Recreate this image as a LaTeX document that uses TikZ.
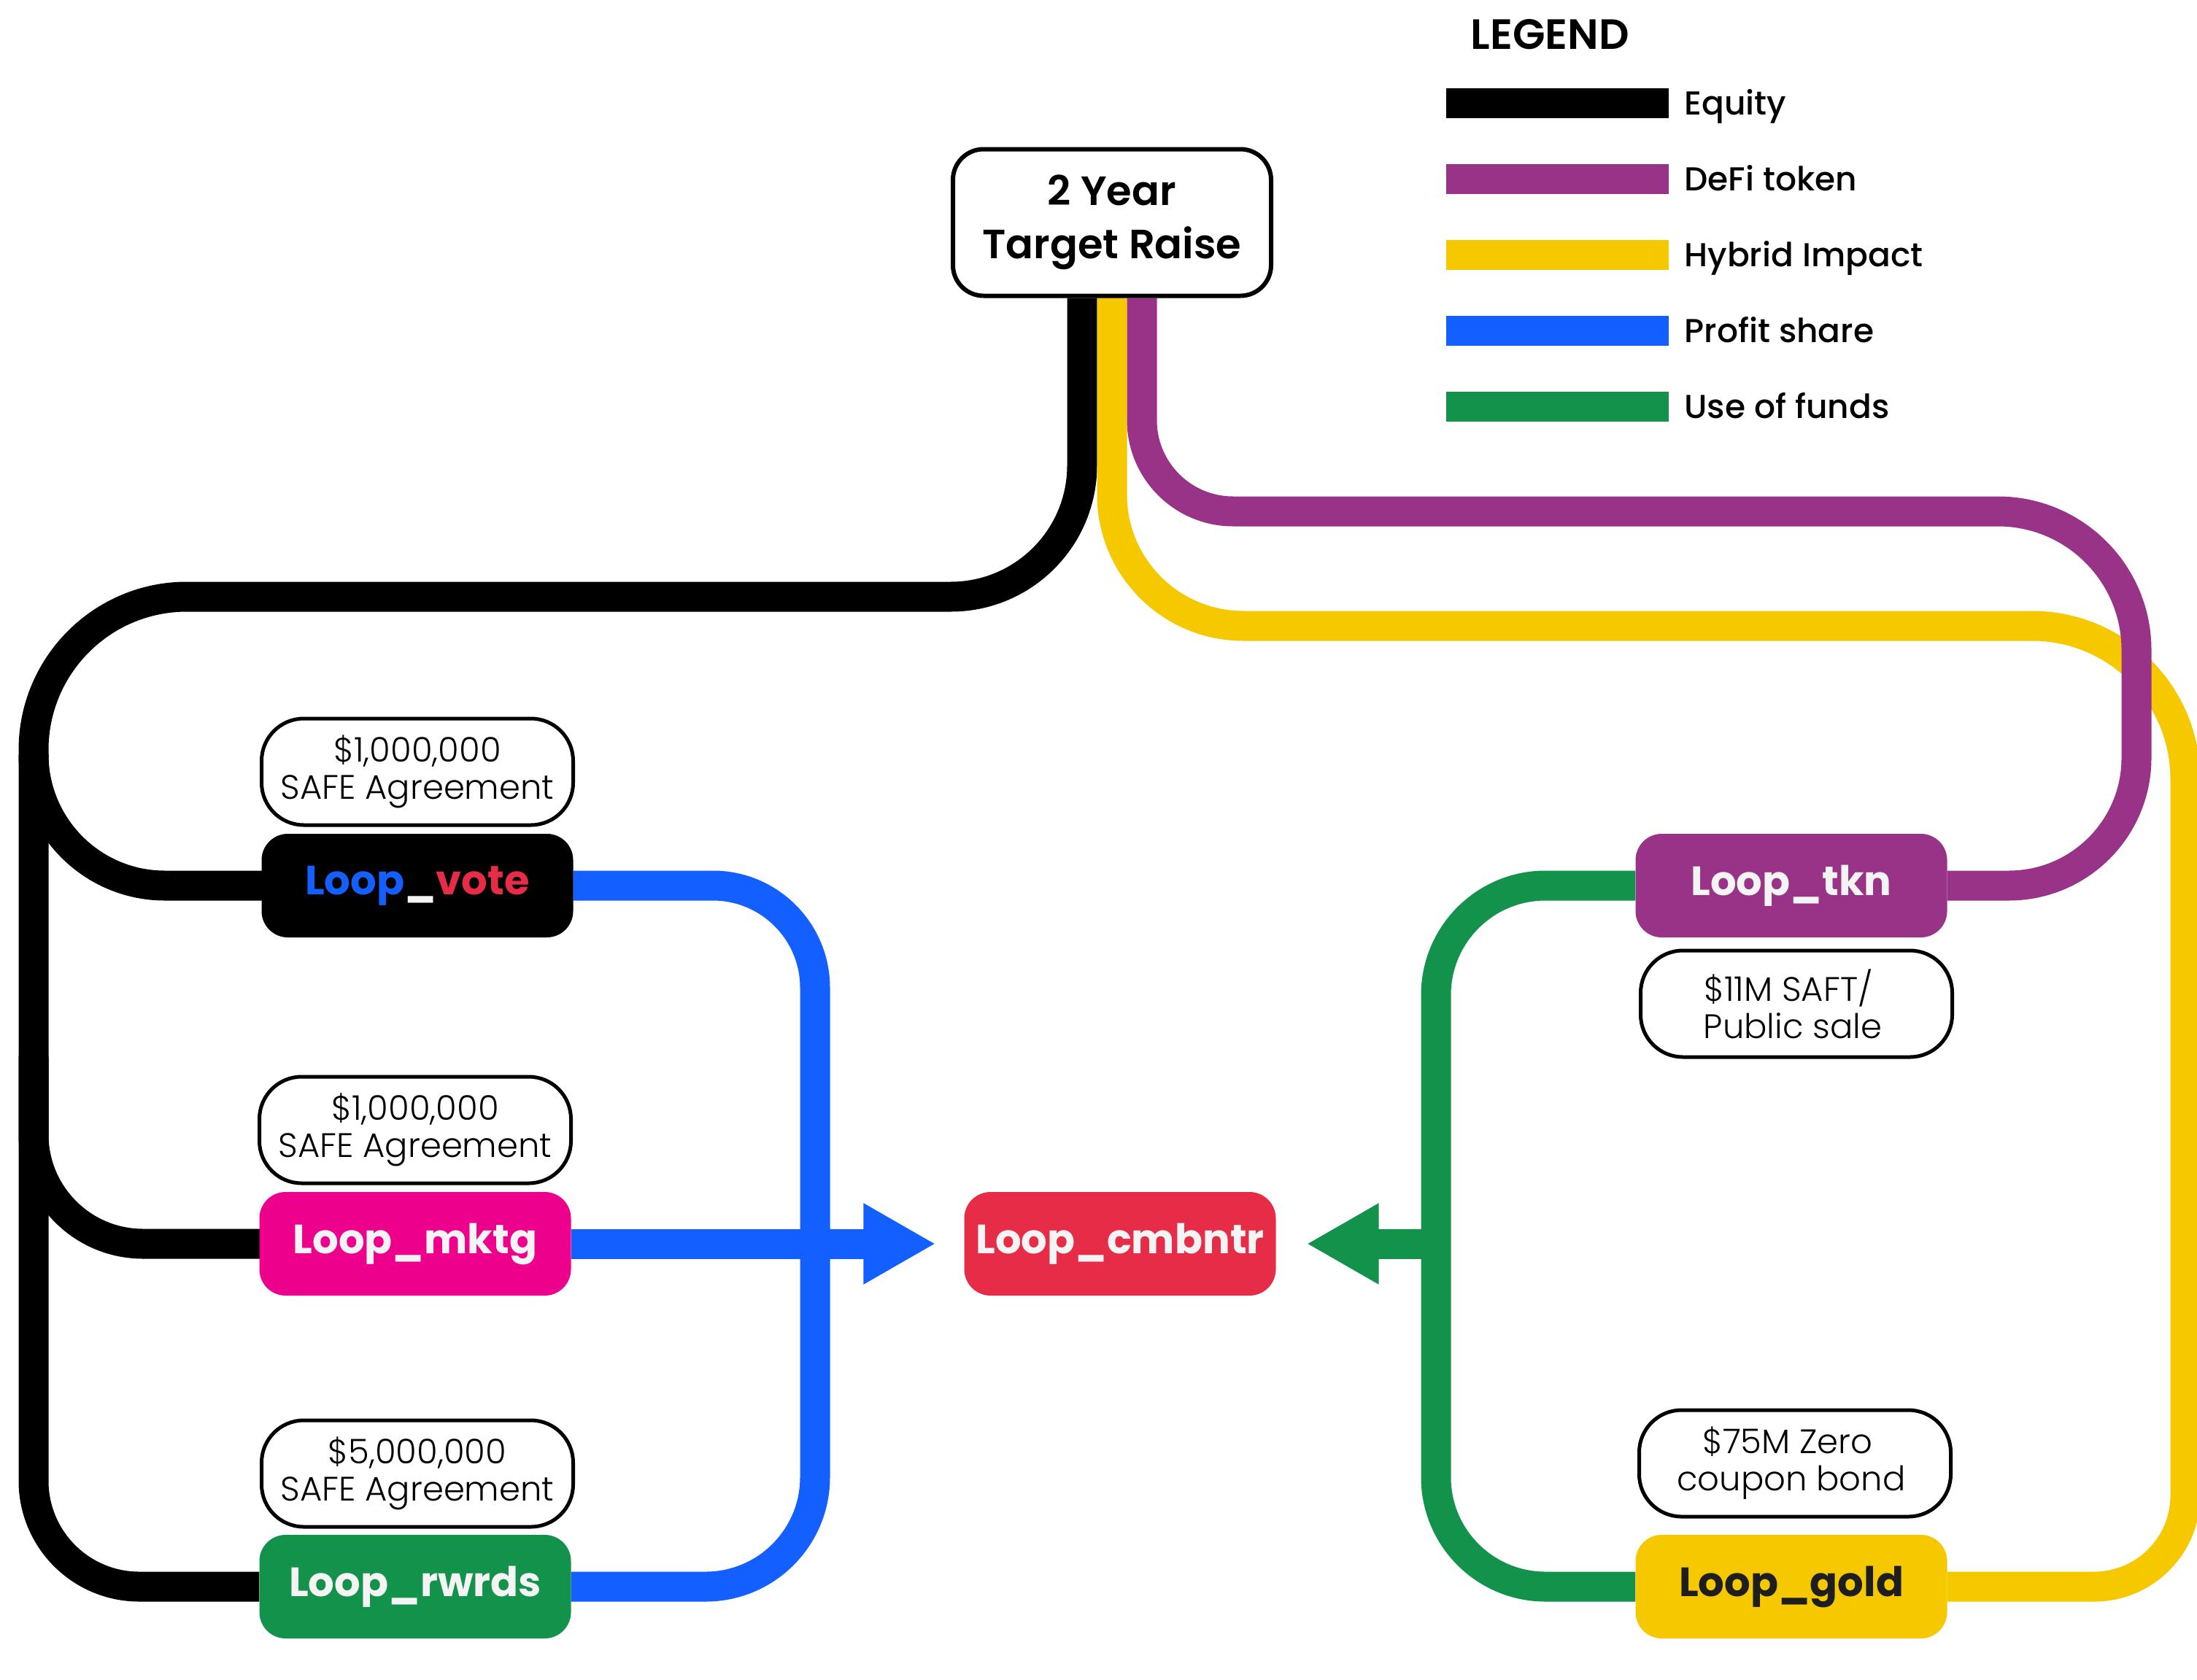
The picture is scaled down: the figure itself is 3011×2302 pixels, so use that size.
\documentclass[tikz,border=0pt]{standalone}
\usepackage{fontspec}
\setmainfont{Poppins}
\IfFontExistsTF{Poppins Light}{\newfontfamily\lightfont{Poppins Light}}{\newfontfamily\lightfont{Poppins}}
\IfFontExistsTF{Poppins Medium}{\newfontfamily\medfont{Poppins Medium}}{\newfontfamily\medfont{Poppins}}
\IfFontExistsTF{Poppins SemiBold}{\newfontfamily\semifont{Poppins SemiBold}}{\newcommand\semifont{\bfseries}}
\usetikzlibrary{arrows.meta,calc}
\definecolor{cPurple}{HTML}{983388}
\definecolor{cYellow}{HTML}{F5C800}
\definecolor{cBlue}{HTML}{135FFF}
\definecolor{cGreen}{HTML}{13924C}
\definecolor{cPink}{HTML}{EC008C}
\definecolor{cRed}{HTML}{E72C47}
\definecolor{cWhite}{HTML}{F4F4F4}
\definecolor{cDark}{HTML}{1E1E1E}
\pgfdeclarelayer{bg}
\pgfsetlayers{bg,main}
\tikzset{
  loopnode/.style={rounded corners=36pt, minimum width=427pt, minimum height=142pt,
    inner sep=0pt, font=\bfseries\fontsize{56}{68}\selectfont, text=cWhite},
  infobox/.style={draw=black, line width=5pt, fill=white, rounded corners=58pt,
    minimum width=427pt, minimum height=146pt, inner sep=0pt, align=center,
    font=\lightfont\fontsize{46.5}{51}\selectfont},
  titlebox/.style={draw=black, line width=6pt, fill=white, rounded corners=42pt,
    minimum width=436pt, minimum height=201pt, inner sep=0pt, align=center,
    font=\semifont\fontsize{56}{73}\selectfont},
  flow/.style={line width=41pt},
  legtext/.style={anchor=base west, font=\medfont\fontsize{45.5}{50}\selectfont},
  arrowtip/.style={-{Triangle[length=99pt,width=104pt]}},
}
\begin{document}
\begin{tikzpicture}[x=1pt,y=-1pt]
\useasboundingbox (0,0) rectangle (3011,2302);
\clip (0,0) rectangle (3011,2302);

% legend
\node[anchor=base west, font=\semifont\fontsize{58}{60}\selectfont] (legtitle) at (2012,67) {LEGEND};
\fill[black]   (1982,120.5) rectangle (2287,161.5);
\fill[cPurple] (1982,224.5) rectangle (2287,265.5);
\fill[cYellow] (1982,328.5) rectangle (2287,369.5);
\fill[cBlue]   (1982,432.5) rectangle (2287,473.5);
\fill[cGreen]  (1982,536.5) rectangle (2287,577.5);
\node[legtext] (l1) at (2305,157) {Equity};
\node[legtext] (l2) at (2305,261) {DeFi token};
\node[legtext] (l3) at (2305,365) {Hybrid Impact};
\node[legtext] (l4) at (2305,469) {Profit share};
\node[legtext] (l5) at (2305,573) {Use of funds};

% nodes
\node[titlebox] (title) at (1524,305) {2 Year\\Target Raise};
\node[loopnode, fill=black] (vote) at (572,1214) {\textcolor{cBlue}{Loop}\_\textcolor{cRed}{vote}};
\node[loopnode, fill=cPink] (mktg) at (569,1705) {Loop\_mktg};
\node[loopnode, fill=cGreen] (rwrds) at (569,2175) {Loop\_rwrds};
\node[loopnode, fill=cRed] (cmb) at (1535,1705) {Loop\_cmbntr};
\node[loopnode, fill=cPurple] (tkn) at (2455,1214) {Loop\_tkn};
\node[loopnode, fill=cYellow, text=cDark] (gold) at (2455,2175) {Loop\_gold};

\node[infobox] (safe1) at (572,1058) {\$1,000,000\\SAFE Agreement};
\node[infobox] (safe2) at (569,1549) {\$1,000,000\\SAFE Agreement};
\node[infobox] (safe3) at (572,2020) {\$5,000,000\\SAFE Agreement};
\node[infobox] (saft) at (2462,1376) {\hspace*{-22pt}\$11M SAFT/\\\hspace*{-10pt}Public sale};
\node[infobox] (bond) at (2460,2006) {\hspace*{-20pt}\$75M Zero\\\hspace*{-10pt}coupon bond};

\coordinate (eqA) at (46,1040);
\coordinate (eqB) at (46,1450);
\coordinate (gj) at (1968,1705);

\begin{pgfonlayer}{bg}
\fill[white] (0,0) rectangle (3011,2302);
% equity
\draw[flow,black] ($(title.south)+(-41,0)$) [rounded corners=180pt] -- (1483,818)
  [rounded corners=210pt] -- (46,818) [rounded corners=145pt] -- (46,2175) -- (rwrds.west);
\draw[flow,black,line cap=round] (eqA) [rounded corners=180pt] -- (46,1214) -- (vote.west);
\draw[flow,black,line cap=round] (eqB) [rounded corners=150pt] -- (46,1705) -- (mktg.west);
% profit share
\draw[flow,cBlue] (vote.east) [rounded corners=140pt] -- (1117,1214)
  [rounded corners=150pt] -- (1117,2175) -- (rwrds.east);
\draw[flow,cBlue,arrowtip,shorten >=39pt] (mktg.east) -- (cmb.west);
% use of funds
\draw[flow,cGreen] (tkn.west) [rounded corners=150pt] -- (1968,1214)
  -- (1968,2175) -- (gold.west);
\draw[flow,cGreen,arrowtip,shorten >=42pt] (gj) -- (cmb.east);
% hybrid impact
\draw[flow,cYellow] (title.south) [rounded corners=180pt] -- (1524,858)
  [rounded corners=210pt] -- (2995,858) [rounded corners=125pt] -- (2995,2175) -- (gold.east);
% defi token
\draw[flow,cPurple] ($(title.south)+(41,0)$) [rounded corners=125pt] -- (1565,701)
  [rounded corners=190pt] -- (2928,701) [rounded corners=175pt] -- (2928,1214) -- (tkn.east);
\end{pgfonlayer}
\end{tikzpicture}
\end{document}
